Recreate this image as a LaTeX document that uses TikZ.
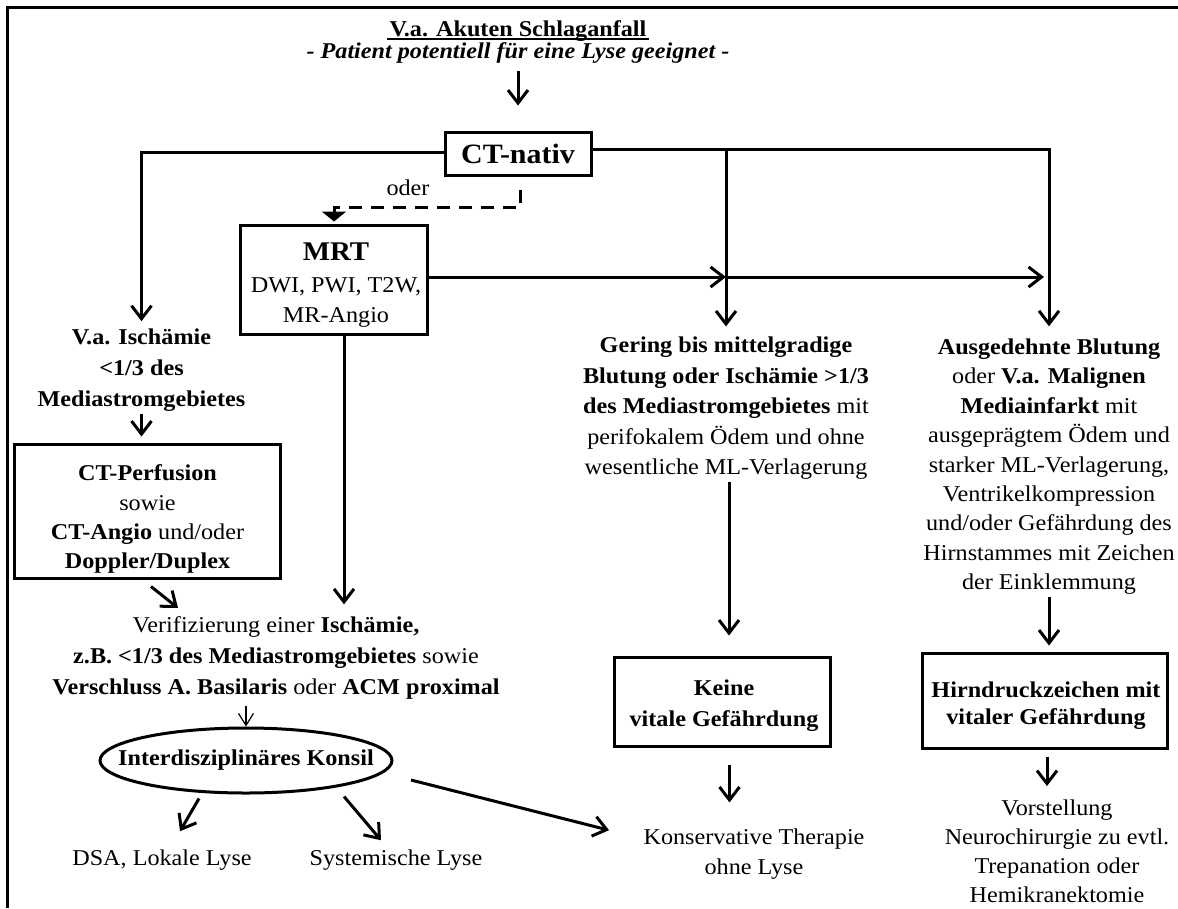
\documentclass[tikz,border=0pt]{standalone}
\usepackage{fontspec}
\setmainfont{Liberation Serif}[FakeStretch=1.07]
\usetikzlibrary{arrows.meta,shapes.geometric}

\begin{document}
\begin{tikzpicture}[x=1pt, y=-1pt, line width=3pt, line join=miter,
  txt/.style={align=center, inner sep=1pt, font=\fontsize{22.6}{30}\selectfont},
  box/.style={draw, rectangle, inner sep=0pt},
  arr/.style={-{Straight Barb[length=13pt,width=20pt]}},
  thinarr/.style={line width=1.2pt, -{Straight Barb[length=12pt,width=15pt]}},
  dashline/.style={dash pattern=on 13pt off 9pt, -{Triangle[length=10pt,width=24pt]}}]

  %% ════ Rahmen (nur links und oben sichtbar) ════
  \draw[line width=2.6pt] (7.7,908) -- (7.7,7.5) -- (1178,7.5);

  %% ════ Kopf ════
  \node[txt, font=\fontsize{22.6}{30}\selectfont\bfseries] (title) at (518,30.8) {V.a. Akuten Schlaganfall};
  \draw[line width=2pt] ([yshift=-3pt]title.base west) -- ([yshift=-3pt]title.base east);
  \node[txt, font=\fontsize{22.6}{30}\selectfont\bfseries\itshape] (sub) at (518,52.6) {- Patient potentiell für eine Lyse geeignet -};

  %% ════ Kästen ════
  \node[box, minimum width=146pt, minimum height=43pt, font=\fontsize{28}{30}\selectfont\bfseries] (ct) at (518,153.5) {CT-nativ};
  \node[box, minimum width=187pt, minimum height=109pt] (mrt) at (334,279.5) {};   % box(240,225,187,109)
  \node[txt] (mrttxt) at (336,285.5) {{\fontsize{27}{30}\selectfont\bfseries MRT}\\[2pt]DWI, PWI, T2W,\\MR-Angio};
  \node[box, minimum width=266pt, minimum height=134pt] (perf) at (147,511) {};   % box(14,444,266,134)
  \node[txt, font=\fontsize{22.6}{29.3}\selectfont] (perftxt) at (147.5,519.2) {\textbf{CT-Perfusion}\\sowie\\\textbf{CT-Angio} und/oder\\\textbf{Doppler/Duplex}};
  \node[box, minimum width=216pt, minimum height=89pt] (keine) at (722,701.5) {};   % box(614,657,216,89)
  \node[txt, font=\fontsize{22.6}{30.3}\selectfont\bfseries] (keinetxt) at (724,705.6) {Keine\\vitale Gefährdung};
  \node[box, minimum width=245pt, minimum height=95pt] (hirn) at (1045,700.5) {};   % box(922,653,245,95)
  \node[txt, font=\fontsize{22.6}{27}\selectfont\bfseries] (hirntxt) at (1046,705.6) {Hirndruckzeichen mit\\vitaler Gefährdung};
  \node[draw, ellipse, minimum width=292pt, minimum height=65pt, inner xsep=-30pt, inner ysep=5pt,
        font=\fontsize{22.6}{30}\selectfont\bfseries] (konsil) at (246,760.5) {Interdisziplinäres Konsil};

  %% ════ Texte ════
  \node[txt] (oder) at (408,188) {oder};
  \node[txt, font=\fontsize{22.6}{31}\selectfont\bfseries] (isch) at (141.5,370) {V.a. Ischämie\\<1/3 des\\Mediastromgebietes};
  \node[txt, font=\fontsize{22.6}{30.5}\selectfont] (gering) at (726,408.2) {\textbf{Gering bis mittelgradige}\\\textbf{Blutung oder Ischämie >1/3}\\\textbf{des Mediastromgebietes} mit\\perifokalem Ödem und ohne\\wesentliche ML-Verlagerung};
  \node[txt, font=\fontsize{22.6}{29.4}\selectfont] (ausg) at (1049,466.7) {\textbf{Ausgedehnte Blutung}\\oder \textbf{V.a. Malignen}\\\textbf{Mediainfarkt} mit\\ausgeprägtem Ödem und\\starker ML-Verlagerung,\\Ventrikelkompression\\und/oder Gefährdung des\\Hirnstammes mit Zeichen\\der Einklemmung};
  \node[txt, font=\fontsize{22.6}{31}\selectfont] (verif) at (276,658.2) {Verifizierung einer \textbf{Ischämie,}\\\textbf{z.B. <1/3 des Mediastromgebietes} sowie\\\textbf{Verschluss A. Basilaris} oder \textbf{ACM proximal}};
  \node[txt] (dsa) at (162,860) {DSA, Lokale Lyse};
  \node[txt] (sys) at (396,860) {Systemische Lyse};
  \node[txt] (konserv) at (754,854.2) {Konservative Therapie\\ohne Lyse};
  \node[txt, font=\fontsize{22.6}{29}\selectfont] (vorst) at (1057,851.5) {Vorstellung\\Neurochirurgie zu evtl.\\Trepanation oder\\Hemikranektomie};

  %% ════ Verbindungen ════
  \path ([yshift=1.5pt]ct.west) coordinate (ctW) ([yshift=4.5pt]ct.east) coordinate (ctE)
        ([yshift=2.5pt]mrt.east) coordinate (mrtE);
  \coordinate (vTip) at (178,608);
  \draw[arr, shorten <=6pt, shorten >=25pt] (sub.south) -- (ct.north);
  \draw[arr, shorten >=5pt] (ctW) -| (isch.north);
  \draw[arr, shorten >=10pt] (ctE) -| (ausg.north);
  \draw[arr, shorten >=8pt] (ctE -| gering.north) -- (gering.north);
  \draw[dashline, shorten >=2pt] ([xshift=2pt,yshift=-13pt]ct.south) -- ++(0,18) -| (mrt.north);
  \draw[arr] (mrtE) -- (mrtE -| gering.north);
  \draw[arr, shorten >=5pt] (mrtE -| gering.north) -- (mrtE -| ausg.north);
  \draw[arr, shorten >=10pt] ([xshift=10pt]mrt.south) -- ([xshift=10pt]mrt.south |- verif.north);
  \draw[arr, shorten >=6pt] (isch.south) -- (isch.south |- perf.north);
  \draw[arr] ([xshift=4pt,yshift=-7pt]perf.south) -- (vTip);
  \draw[thinarr, shorten <=4pt] (verif.south -| konsil.north) -- (konsil.north);
  \draw[arr] ([xshift=-47pt,yshift=-4pt]konsil.south) -- ([xshift=18pt,yshift=16pt]dsa.north);
  \draw[arr] ([xshift=98pt,yshift=-2pt]konsil.south) -- ([xshift=-15pt,yshift=7pt]sys.north);
  \draw[arr] ([xshift=17.5pt,yshift=-19.5pt]konsil.east) -- ([xshift=-32pt,yshift=24pt]konserv.west);
  \draw[arr, shorten >=20pt] ([xshift=3pt]gering.south) -- ([xshift=3pt]gering.south |- keine.north);
  \draw[arr, shorten <=17pt, shorten >=24pt] ([xshift=7.5pt]keine.south) -- ([xshift=7.5pt]keine.south |- konserv.north);
  \draw[arr, shorten >=6pt] (ausg.south) -- (ausg.south |- hirn.north);
  \draw[arr, shorten <=7pt, shorten >=11.5pt] ([xshift=2pt]hirn.south) -- ([xshift=2pt]hirn.south |- vorst.north);

  % Seite fest auf 1178 x 908
  \pgfresetboundingbox
  \path[use as bounding box] (0,0) rectangle (1178,908);
\end{tikzpicture}
\end{document}
